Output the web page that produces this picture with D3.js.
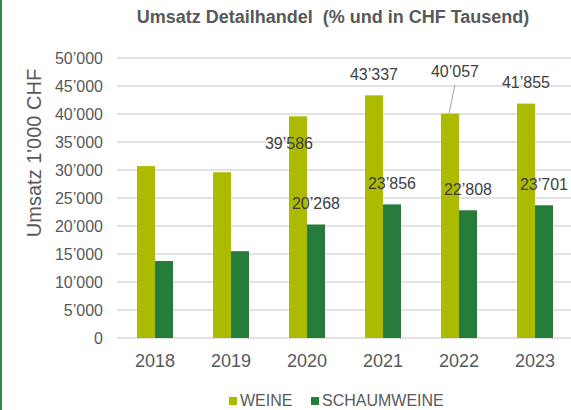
<!DOCTYPE html>
<html>
<head>
<meta charset="utf-8">
<script src="https://cdn.jsdelivr.net/npm/d3@7"></script>
<style>
  html, body { margin: 0; padding: 0; background: #fff; }
  #chart { width: 571px; height: 410px; }
  text { font-family: "Liberation Sans", Arial, sans-serif; fill: #595959; }
</style>
</head>
<body>
<div id="chart"></div>
<script>
// Data
const years = ["2018", "2019", "2020", "2021", "2022", "2023"];
const seriesNames = ["WEINE", "SCHAUMWEINE"];
const weine = [30700, 29600, 39586, 43337, 40057, 41855];
const schaumweine = [13750, 15500, 20268, 23856, 22808, 23701];
const yTicks = [0, 5000, 10000, 15000, 20000, 25000, 30000, 35000, 40000, 45000, 50000];
const labelledYears = ["2020", "2021", "2022", "2023"];

const colors = { WEINE: "#adbb00", SCHAUMWEINE: "#267c3b" };

// 1. SVG
const width = 571, height = 410;
const svg = d3.select("#chart").append("svg")
    .attr("width", width)
    .attr("height", height);

// left frame line
svg.append("line")
    .attr("x1", 1).attr("x2", 1)
    .attr("y1", 0).attr("y2", height)
    .attr("stroke", "#2e8b3e")
    .attr("stroke-width", 2);

// 2. Scales
const y = d3.scaleLinear().domain([0, 50000]).range([338, 58]);
const x = d3.scaleBand().domain(years).range([117, 573])
    .paddingInner(0.5263).paddingOuter(0.2632);
const xSub = d3.scaleBand().domain(seriesNames).range([0, x.bandwidth()]);

const locale = d3.formatLocale({ decimal: ".", thousands: "\u2019", grouping: [3], currency: ["", ""] });
const fmt = locale.format(",");

// 3. Title
svg.append("text")
    .attr("x", 333).attr("y", 23)
    .attr("text-anchor", "middle")
    .style("font-size", "18px")
    .style("font-weight", "bold")
    .text("Umsatz Detailhandel\u00a0\u00a0(% und in CHF Tausend)");

// 4. Grid + y axis
svg.append("g").selectAll("line")
    .data(yTicks)
    .join("line")
    .attr("x1", 117).attr("x2", 571)
    .attr("y1", d => y(d)).attr("y2", d => y(d))
    .attr("stroke", "#d9d9d9")
    .attr("stroke-width", 1.5);

svg.append("g").selectAll("text")
    .data(yTicks)
    .join("text")
    .attr("x", 103)
    .attr("y", d => y(d))
    .attr("dy", "0.36em")
    .attr("text-anchor", "end")
    .style("font-size", "16px")
    .text(d => fmt(d));

svg.append("text")
    .attr("transform", "translate(41,153) rotate(-90)")
    .attr("text-anchor", "middle")
    .style("font-size", "20px")
    .text("Umsatz 1'000 CHF");

// 5. Bars
const rows = years.map((yr, i) => ({ year: yr, WEINE: weine[i], SCHAUMWEINE: schaumweine[i] }));
const flat = rows.flatMap(r => seriesNames.map(s => ({ year: r.year, series: s, value: r[s] })));

svg.append("g").selectAll("rect")
    .data(flat)
    .join("rect")
    .attr("x", d => x(d.year) + xSub(d.series))
    .attr("width", xSub.bandwidth())
    .attr("y", d => y(d.value))
    .attr("height", d => y(0) - y(d.value))
    .attr("fill", d => colors[d.series]);

// x axis labels
svg.append("g").selectAll("text")
    .data(years)
    .join("text")
    .attr("x", d => x(d) + x.bandwidth() / 2)
    .attr("y", 367)
    .attr("text-anchor", "middle")
    .style("font-size", "18px")
    .text(d => d);

// 6. Data labels (a few were dragged around in the original)
const labelTweaks = {
    "WEINE-2020": { dx: -9, dy: 27 },
    "WEINE-2022": { dx: 5, dy: -42, leader: true }
};
const labelled = flat.filter(d => labelledYears.includes(d.year));

labelled.forEach(d => {
    const t = labelTweaks[d.series + "-" + d.year] || { dx: 0, dy: -21 };
    const cx = x(d.year) + xSub(d.series) + xSub.bandwidth() / 2;
    const top = y(d.value);
    if (t.leader) {
        svg.append("line")
            .attr("x1", cx + t.dx).attr("y1", top + t.dy + 13)
            .attr("x2", cx - 1).attr("y2", top)
            .attr("stroke", "#a6a6a6").attr("stroke-width", 1);
    }
    svg.append("text")
        .attr("x", cx + t.dx)
        .attr("y", top + t.dy)
        .attr("dy", "0.36em")
        .attr("text-anchor", "middle")
        .style("font-size", "16px")
        .style("fill", "#404040")
        .text(fmt(d.value));
});

// 7. Legend
const legendX = [229, 311];
const legend = svg.append("g").selectAll("g")
    .data(seriesNames)
    .join("g")
    .attr("transform", (d, i) => `translate(${legendX[i]},397)`);
legend.append("rect")
    .attr("width", 8).attr("height", 8)
    .attr("fill", d => colors[d]);
legend.append("text")
    .attr("x", 11).attr("y", 9)
    .style("font-size", "16px")
    .text(d => d);
</script>
</body>
</html>
